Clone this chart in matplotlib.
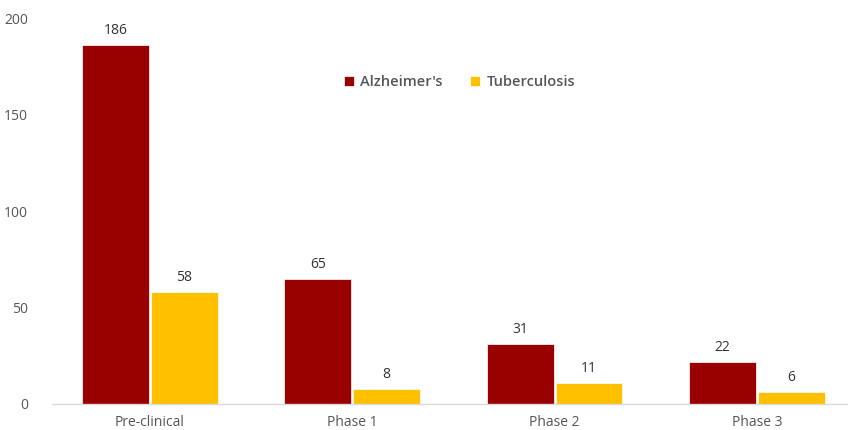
import numpy as np
import matplotlib
matplotlib.use("Agg")
import matplotlib.pyplot as plt

categories = ["Pre-clinical", "Phase 1", "Phase 2", "Phase 3"]
alzheimers = [186, 65, 31, 22]
tuberculosis = [58, 8, 11, 6]
y_ticks = [0, 50, 100, 150, 200]

plt.rcParams['font.family'] = ['Open Sans', 'DejaVu Sans']
text_color = "#555555"

fig = plt.figure(figsize=(8.48, 4.3), dpi=100)
ax = fig.add_axes([0.061, 0.0605, 0.939, 0.8975])

x = np.arange(len(categories))
w = 0.33
b1 = ax.bar(x - w / 2 - 0.005, alzheimers, w, color="#990000", edgecolor="white",
            linewidth=0.5, label="Alzheimer's")
b2 = ax.bar(x + w / 2 + 0.005, tuberculosis, w, color="#FFC000", edgecolor="white",
            linewidth=0.5, label="Tuberculosis")

for bars, vals in [(b1, alzheimers), (b2, tuberculosis)]:
    for bar, v in zip(bars, vals):
        ax.annotate(str(v), (bar.get_x() + bar.get_width() / 2, v),
                    xytext=(0, 5), textcoords="offset points",
                    ha="center", va="bottom", fontsize=10, color="#333333",
                    fontweight="medium")

ax.set_xlim(-0.485, 3.45)
ax.set_ylim(0, 200)
ax.set_yticks(y_ticks)
ax.set_xticks(x)
ax.set_xticklabels(categories, fontweight="medium")
for lbl in ax.get_yticklabels():
    lbl.set_fontweight("medium")
ax.tick_params(axis="both", length=0, labelsize=10, colors=text_color)
ax.tick_params(axis="y", pad=17)
ax.tick_params(axis="x", pad=8)
for s in ["top", "right", "left"]:
    ax.spines[s].set_visible(False)
ax.spines["bottom"].set_color("#d9d9d9")
ax.spines["bottom"].set_linewidth(1)

leg = ax.legend(loc="center", bbox_to_anchor=(0.512, 0.835), ncol=2, frameon=False,
                prop={"size": 10.5, "weight": "semibold"},
                handlelength=0.7, handleheight=0.7, handletextpad=0.4,
                columnspacing=1.9)
for t in leg.get_texts():
    t.set_color(text_color)

fig.savefig("out.png", dpi=100)
